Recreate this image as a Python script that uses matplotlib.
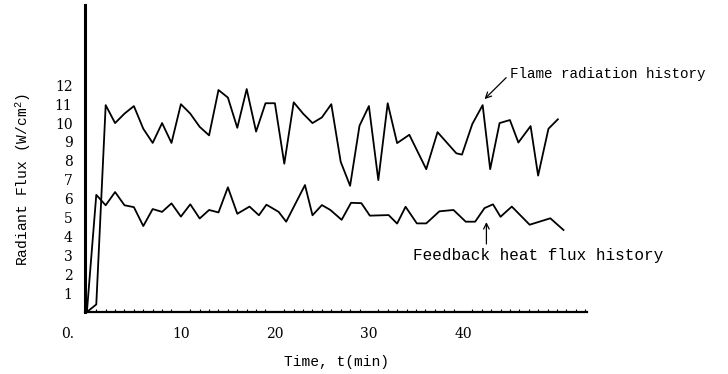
import matplotlib
matplotlib.use("Agg")
import matplotlib.pyplot as plt
from matplotlib.ticker import MultipleLocator

plt.rcParams['mathtext.fontset'] = 'custom'
plt.rcParams['mathtext.rm'] = 'Liberation Mono'
plt.rcParams['mathtext.it'] = 'Liberation Mono'

# flame radiation history (W/cm^2) vs time (min)
flame_t = [0, 1, 2, 3, 4, 5, 6, 7, 8, 9, 10, 11, 12, 13, 14, 15, 16, 17, 18, 19, 20,
           21, 22, 23, 24, 25, 26, 27, 28, 29, 30, 31, 32, 33, 34.3, 36.1, 37.3,
           39.3, 39.9, 41, 42.1, 42.9, 43.9, 45, 45.9, 47.2, 48, 49.1, 50.1]
flame_q = [0, 0.4, 10.95, 10.0, 10.5, 10.9, 9.7, 8.95, 10.0, 8.95, 11.0, 10.5, 9.8, 9.35,
           11.75, 11.35, 9.75, 11.8, 9.55, 11.05, 11.05, 7.85, 11.1, 10.5, 10.0, 10.3,
           11.0, 7.95, 6.68, 9.86, 10.9, 6.98, 11.05, 8.94, 9.38, 7.56, 9.52,
           8.4, 8.33, 9.95, 10.95, 7.56, 10.0, 10.16, 8.97, 9.84, 7.22, 9.7, 10.2]

# feedback heat flux history
feed_t = [0, 1, 2, 3, 4, 5, 6, 7, 8, 9, 10, 11, 12, 13, 14, 15, 16, 17.3, 18.3, 19.1,
          20.4, 21.2, 23.2, 24, 25, 25.9, 27.1, 28.1, 29.2, 30.1, 32.1, 33, 33.9, 35.1,
          36.1, 37.5, 39, 40.3, 41.3, 42.3, 43.2, 44, 45.2, 47.1, 49.3, 50.7]
feed_q = [0, 6.2, 5.65, 6.35, 5.65, 5.55, 4.55, 5.45, 5.3, 5.75, 5.05, 5.7, 4.95, 5.4,
          5.27, 6.6, 5.2, 5.58, 5.12, 5.68, 5.3, 4.78, 6.72, 5.12, 5.66, 5.4, 4.88,
          5.78, 5.76, 5.1, 5.13, 4.68, 5.57, 4.69, 4.69, 5.33, 5.4, 4.78, 4.78, 5.5,
          5.7, 5.04, 5.58, 4.62, 4.96, 4.34]

ytick_vals = list(range(1, 13))
xtick_vals = [10, 20, 30, 40]

mono = 'Liberation Mono'
serif = 'DejaVu Serif'

fig = plt.figure(figsize=(7.28, 3.74), dpi=100)
ax = fig.add_axes([85 / 728, 1 - 312 / 374, (587 - 85) / 728, (312 - 5) / 374])

ax.plot(flame_t, flame_q, color='black', lw=1.3)
ax.plot(feed_t, feed_q, color='black', lw=1.3)

ax.set_xlim(-0.2, 53.2)
ax.set_ylim(0, 16.25)

ax.spines['top'].set_visible(False)
ax.spines['right'].set_visible(False)
ax.spines['left'].set_linewidth(2.2)
ax.spines['bottom'].set_linewidth(1.6)

ax.set_xticks(xtick_vals)
ax.set_xticklabels([str(v) for v in xtick_vals], fontfamily=serif, fontsize=10)
ax.xaxis.set_minor_locator(MultipleLocator(1))
ax.tick_params(axis='x', which='major', length=0, pad=11)
ax.tick_params(axis='x', which='minor', length=2, width=0.8, direction='in')
ax.set_yticks(ytick_vals)
ax.set_yticklabels([str(v) for v in ytick_vals], fontfamily=serif, fontsize=10)
ax.tick_params(axis='y', length=0, pad=9)

# the lone "0." under the origin
ax.text(-2.1, -1.15, '0.', fontfamily=serif, fontsize=10, ha='center', va='center')

ax.set_xlabel('Time, t(min)', fontfamily=mono, fontsize=10.5, labelpad=10)
ax.set_ylabel(r'Radiant Flux (W/cm$^{2}$)', fontfamily=mono, fontsize=10.5)
ax.yaxis.set_label_coords(-0.103, 0.43)

ax.annotate('Flame radiation history', xy=(42.3, 11.27), xytext=(45.0, 12.6),
            fontfamily=mono, fontsize=10.3, ha='left', va='center', annotation_clip=False,
            arrowprops=dict(arrowstyle='->', color='black', lw=0.9, relpos=(0, 0.5),
                            shrinkA=1, shrinkB=0))
ax.annotate('', xy=(42.5, 4.76), xytext=(42.5, 3.6),
            arrowprops=dict(arrowstyle='->', color='black', lw=0.9, shrinkA=0, shrinkB=0))
ax.text(34.7, 3.0, 'Feedback heat flux history', fontfamily=mono, fontsize=11.5,
        ha='left', va='center')

fig.savefig('out.png', dpi=100)
